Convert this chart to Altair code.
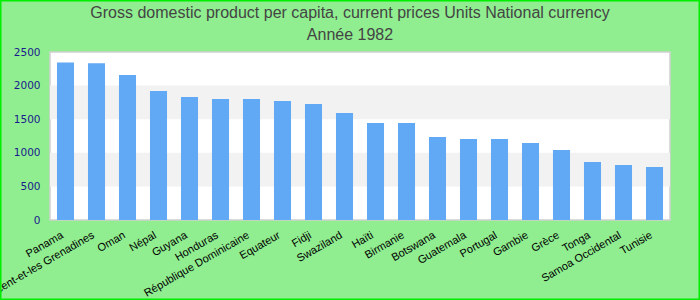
import altair as alt
import pandas as pd

countries = ["Panama", "Saint-Vincent-et-les Grenadines", "Oman", "Népal", "Guyana",
             "Honduras", "République Dominicaine", "Equateur", "Fidji", "Swaziland",
             "Haïti", "Birmanie", "Botswana", "Guatemala", "Portugal",
             "Gambie", "Grèce", "Tonga", "Samoa Occidental", "Tunisie"]
values = [2345, 2333, 2158, 1920, 1830,
          1800, 1800, 1771, 1726, 1592,
          1443, 1443, 1235, 1205, 1205,
          1146, 1042, 863, 818, 789]

band_lo = [500, 1500]
band_hi = [1000, 2000]

title_lines = ["Gross domestic product per capita, current prices Units National currency",
               "Année 1982"]

df = pd.DataFrame({"pays": countries, "valeur": values})
bands = pd.DataFrame({"lo": band_lo, "hi": band_hi})

W, H = 620, 168
PL, PT, PR, PB = 50, 52, 30, 80

ydom = alt.Scale(domain=[0, 2500], nice=False)
yaxis = alt.Axis(title=None, values=[0, 500, 1000, 1500, 2000, 2500],
                 format="d", labelOverlap=False,
                 grid=False, ticks=False, domain=False,
                 labelPadding=10, labelColor="#1a1a8c",
                 labelFont="DejaVu Sans", labelFontSize=10.5)

band_layer = alt.Chart(bands).mark_rect(color="#f2f2f2").encode(
    y=alt.Y("lo:Q", scale=ydom, axis=yaxis),
    y2="hi:Q",
    x=alt.value(0),
    x2=alt.value(W),
)

bars = alt.Chart(df).mark_bar(color="#61a9f5").encode(
    x=alt.X("pays:N", sort=None,
            scale=alt.Scale(paddingInner=0.45, paddingOuter=0.225),
            axis=alt.Axis(title=None, labelAngle=-30, labelAlign="right",
                          labelBaseline="top", labelPadding=9, labelOffset=-6,
                          ticks=False, domain=False, labelColor="#000000",
                          labelFont="Liberation Sans", labelFontSize=11,
                          labelOverlap=False, labelLimit=300)),
    y=alt.Y("valeur:Q", scale=ydom, axis=yaxis),
)

title1 = alt.Chart(pd.DataFrame({"t": [title_lines[0]]})).mark_text(
    font="Liberation Sans", fontSize=16, color="#444444", baseline="middle",
    align="center", clip=False
).encode(text="t:N", x=alt.value(350 - PL), y=alt.value(13 - PT))

title2 = alt.Chart(pd.DataFrame({"t": [title_lines[1]]})).mark_text(
    font="Liberation Sans", fontSize=16, color="#444444", baseline="middle",
    align="center", clip=False
).encode(text="t:N", x=alt.value(350 - PL), y=alt.value(35 - PT))

frame = alt.Chart(pd.DataFrame({"a": [0]})).mark_rect(
    fill=None, stroke="#00ee00", strokeWidth=1.5, clip=False
).encode(
    x=alt.value(-PL + 0.75), x2=alt.value(W + PR - 0.75),
    y=alt.value(-PT + 0.75), y2=alt.value(H + PB - 0.75),
)

chart = alt.layer(band_layer, bars, title1, title2, frame).properties(
    width=W, height=H,
    background="#90ee90",
    padding={"left": PL, "top": PT, "right": PR, "bottom": PB},
    autosize=alt.AutoSizeParams(type="none"),
).configure_view(
    fill="white", stroke="#d0d0d0", strokeWidth=1.5
)

chart.save("out.html", embed_options={"renderer": "svg", "actions": False})
